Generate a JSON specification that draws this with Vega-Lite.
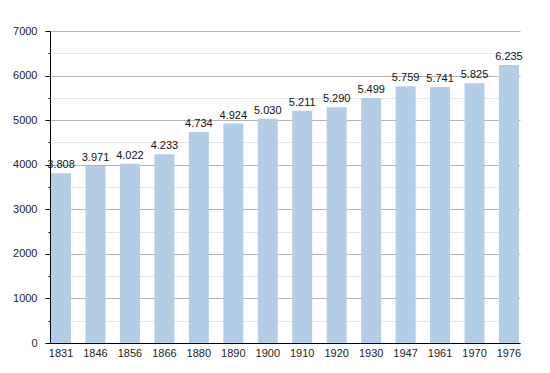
{
  "$schema": "https://vega.github.io/schema/vega-lite/v6.json",
  "width": 470,
  "height": 312,
  "autosize": {"type": "none"},
  "padding": {"left": 50, "top": 31, "right": 30, "bottom": 30},
  "background": "white",
  "config": {
    "view": {"stroke": null},
    "font": "Liberation Sans",
    "locale": {"number": {"decimal": ",", "thousands": ".", "grouping": [3], "currency": ["", ""]}}
  },
  "data": {"values": [
    {"year": "1831", "pop": 3808},
    {"year": "1846", "pop": 3971},
    {"year": "1856", "pop": 4022},
    {"year": "1866", "pop": 4233},
    {"year": "1880", "pop": 4734},
    {"year": "1890", "pop": 4924},
    {"year": "1900", "pop": 5030},
    {"year": "1910", "pop": 5211},
    {"year": "1920", "pop": 5290},
    {"year": "1930", "pop": 5499},
    {"year": "1947", "pop": 5759},
    {"year": "1961", "pop": 5741},
    {"year": "1970", "pop": 5825},
    {"year": "1976", "pop": 6235}
  ]},
  "encoding": {
    "x": {
      "field": "year", "type": "ordinal", "sort": null,
      "scale": {"paddingInner": 0.42, "paddingOuter": 0.03},
      "axis": {
        "title": null, "labelAngle": 0, "ticks": false, "domainColor": "#000000",
        "labelColor": "#222222", "labelFontSize": 11, "labelPadding": 4
      }
    },
    "y": {
      "field": "pop", "type": "quantitative",
      "scale": {"domain": [0, 7000], "nice": false},
      "axis": {
        "title": null,
        "values": [0, 500, 1000, 1500, 2000, 2500, 3000, 3500, 4000, 4500, 5000, 5500, 6000, 6500, 7000],
        "labelExpr": "datum.value % 1000 === 0 ? format(datum.value, 'd') : ''",
        "gridColor": {"condition": {"test": "datum.value % 1000 === 0", "value": "#b4b4b4"}, "value": "#e6e6e6"},
        "tickSize": {"condition": {"test": "datum.value % 1000 === 0", "value": 5}, "value": 2},
        "domainColor": "#000000", "tickColor": "#000000",
        "labelColor": "#222222", "labelFontSize": 11, "labelPadding": 8
      }
    }
  },
  "layer": [
    {"mark": {"type": "bar", "color": "#b3cde6"}},
    {
      "mark": {"type": "text", "baseline": "bottom", "dy": -3, "fontSize": 11, "color": "#111111"},
      "encoding": {"text": {"field": "pop", "type": "quantitative", "format": ",d"}}
    }
  ]
}
